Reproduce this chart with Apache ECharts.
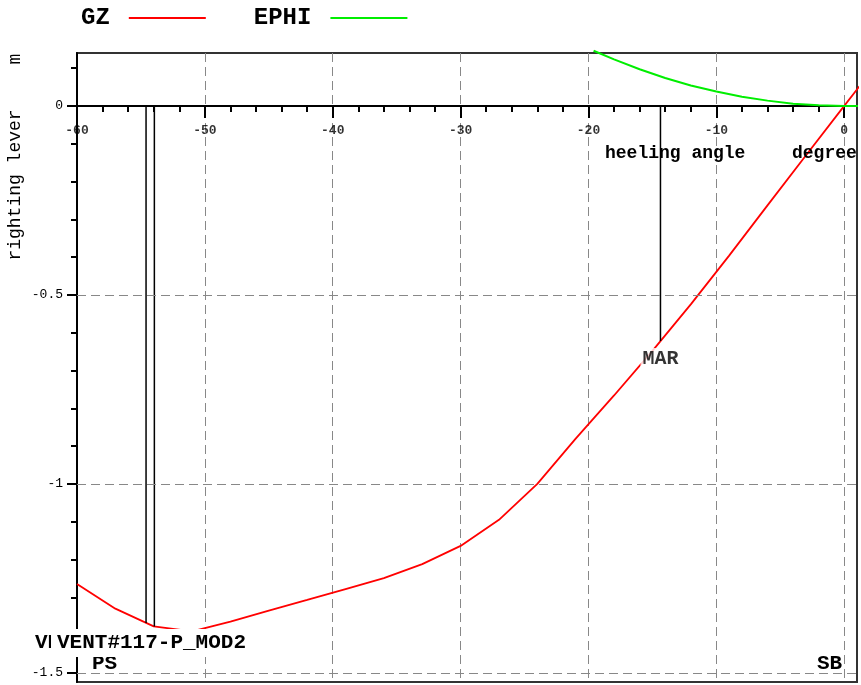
<!DOCTYPE html>
<html>
<head>
<meta charset="utf-8">
<script src="https://cdn.jsdelivr.net/npm/echarts@6/dist/echarts.min.js"></script>
<style>
  html, body { margin: 0; padding: 0; background: #fff; }
  #chart { width: 861px; height: 685px; }
</style>
</head>
<body>
<div id="chart"></div>
<script>
// Righting lever curve (GZ) against heeling angle, in metres
const heelAngles = [-60, -57, -54, -51, -48, -45, -42, -39, -36, -33, -30, -27, -24, -21, -18, -15, -12, -9, -6, -3, 0, 2];
const gzValues = [-1.265, -1.330, -1.377, -1.390, -1.364, -1.335, -1.307, -1.278, -1.249, -1.212, -1.164, -1.095, -1.000, -0.880, -0.766, -0.648, -0.525, -0.396, -0.263, -0.131, 0.000, 0.087];

// Heeling lever (EPHI)
const ephiAngles = [-19.6, -18, -16, -14, -12, -10, -8, -6, -4, -2, 0, 2];
const ephiValues = [0.146, 0.123, 0.097, 0.074, 0.054, 0.038, 0.024, 0.014, 0.006, 0.0015, 0, 0];

// Opening angles (vents) and the maximum-allowed-righting marker
const ventAngles = [-54.6, -53.95];
const marAngle = -14.37;
const marText = 'MAR';

// Axis ticks and labels
const xLabelValues = [-60, -50, -40, -30, -20, -10, 0];
const yLabelValues = [-1.5, -1, -0.5, 0];
const yGridValues = [-0.5, -1, -1.5];

const FONT = "'Liberation Mono', 'DejaVu Sans Mono', monospace";

function gzAt(a) {
  for (let i = 0; i < heelAngles.length - 1; i++) {
    const a0 = heelAngles[i], a1 = heelAngles[i + 1];
    if (a >= a0 && a <= a1) {
      const t = (a - a0) / (a1 - a0);
      return gzValues[i] + t * (gzValues[i + 1] - gzValues[i]);
    }
  }
  return 0;
}

const xMinorTicks = [];
for (let v = -58; v <= -2; v += 2) xMinorTicks.push(v);
const yMinorTicks = [];
for (let k = -15; k <= 1; k++) yMinorTicks.push(Math.round(k) / 10);

const chart = echarts.init(document.getElementById('chart'), null, { renderer: 'canvas' });

const markerSeries = ventAngles.concat([marAngle]).map((a, i) => ({
  name: 'marker' + i,
  type: 'line',
  xAxisIndex: 0,
  yAxisIndex: 0,
  data: [[a, 0], [a, gzAt(a)]],
  symbol: 'none',
  lineStyle: { color: '#000', width: 1.5 },
  z: 4,
  silent: true
}));

const option = {
  animation: false,
  backgroundColor: '#fff',
  legend: {
    left: 81,
    top: 6,
    padding: 0,
    align: 'right',
    icon: 'rect',
    itemWidth: 77,
    itemHeight: 2,
    itemGap: 48,
    data: ['GZ', 'EPHI'],
    textStyle: { fontFamily: FONT, fontSize: 24, fontWeight: 'bold', color: '#000', padding: [0, 14, 0, 0] }
  },
  grid: {
    left: 77, right: 4, top: 53, bottom: 3,
    show: true,
    borderColor: '#333',
    borderWidth: 2,
    containLabel: false,
    outerBoundsMode: 'none'
  },
  xAxis: [
    {
      type: 'value',
      position: 'bottom',
      min: -60, max: 1, interval: 10,
      axisLine: { onZero: true, lineStyle: { color: '#000', width: 2 } },
      axisTick: { customValues: xLabelValues, length: 12, lineStyle: { color: '#000', width: 2 } },
      axisLabel: { show: false },
      splitLine: { show: true, lineStyle: { color: '#888', width: 1, type: [9, 5] } }
    },
    {
      type: 'value',
      position: 'bottom',
      min: -60, max: 1, interval: 10,
      axisLine: { show: false, onZero: true },
      axisTick: { customValues: xMinorTicks, length: 6, lineStyle: { color: '#000', width: 2 } },
      axisLabel: { show: false },
      splitLine: { show: false }
    }
  ],
  yAxis: [
    {
      type: 'value',
      position: 'left',
      min: -1.524, max: 0.14,
      axisLine: { show: true, onZero: false, lineStyle: { color: '#000', width: 2 } },
      axisTick: { customValues: yLabelValues, length: 10, lineStyle: { color: '#000', width: 2 } },
      axisLabel: {
        customValues: yLabelValues,
        margin: 14,
        fontFamily: FONT, fontSize: 13, color: '#000'
      },
      splitLine: { show: false }
    },
    {
      type: 'value',
      position: 'left',
      offset: 0,
      min: -1.524, max: 0.14,
      axisLine: { show: false, onZero: false },
      axisTick: { customValues: yMinorTicks, length: 6, lineStyle: { color: '#000', width: 2 } },
      axisLabel: { show: false },
      splitLine: { show: false }
    }
  ],
  series: [
    {
      name: 'grid',
      type: 'line',
      data: [],
      silent: true,
      z: 1,
      markLine: {
        silent: true,
        symbol: ['none', 'none'],
        label: { show: false },
        lineStyle: { color: '#888', width: 1, type: [9, 5] },
        data: yGridValues.map(v => ({ yAxis: v }))
      }
    },
    {
      name: 'GZ',
      type: 'line',
      data: heelAngles.map((a, i) => [a, gzValues[i]]),
      symbol: 'none',
      clip: false,
      color: '#ff0000',
      lineStyle: { color: '#ff0000', width: 1.8 },
      z: 3
    },
    {
      name: 'EPHI',
      type: 'line',
      data: ephiAngles.map((a, i) => [a, ephiValues[i]]),
      symbol: 'none',
      clip: false,
      color: '#00ee00',
      lineStyle: { color: '#00ee00', width: 2 },
      z: 3
    },
    ...markerSeries,
    {
      // heeling angle tick labels along the zero line
      name: 'xLabels',
      type: 'scatter',
      data: xLabelValues.map(v => [v, 0]),
      symbolSize: 0,
      silent: true,
      clip: false,
      z: 6,
      label: {
        show: true,
        position: 'bottom',
        distance: 18,
        formatter: p => String(p.value[0]),
        fontFamily: FONT, fontSize: 13, fontWeight: 'bold', color: '#000'
      }
    },
    {
      name: 'marLabel',
      type: 'scatter',
      data: [[marAngle, gzAt(marAngle)]],
      symbolSize: 0,
      silent: true,
      z: 10,
      label: {
        show: true,
        position: 'bottom',
        distance: 7,
        formatter: marText,
        fontFamily: FONT, fontSize: 20, fontWeight: 'bold', color: '#000',
        backgroundColor: '#fff',
        padding: [1, 2, 1, 2]
      }
    }
  ],
  graphic: [
    { type: 'text', x: 15, y: 59, rotation: Math.PI / 2, z: 100,
      style: { text: 'm', font: '18px ' + FONT, fill: '#000', align: 'center', verticalAlign: 'middle' } },
    { type: 'text', x: 15, y: 185, rotation: Math.PI / 2, z: 100,
      style: { text: 'righting lever', font: '18px ' + FONT, fill: '#000', align: 'center', verticalAlign: 'middle' } },
    { type: 'text', x: 605, y: 153, z: 100,
      style: { text: 'heeling angle', font: 'bold 18px ' + FONT, fill: '#000', align: 'left', verticalAlign: 'middle' } },
    { type: 'text', x: 792, y: 153, z: 100,
      style: { text: 'degree', font: 'bold 18px ' + FONT, fill: '#000', align: 'left', verticalAlign: 'middle' } },
    { type: 'text', x: 35, y: 643, z: 100,
      style: { text: 'VENT#117-P_MOD2', font: 'bold 21px ' + FONT, fill: '#000', align: 'left', verticalAlign: 'middle',
               backgroundColor: '#fff', padding: [4, 0, 3, 0] } },
    { type: 'text', x: 51, y: 643, z: 101,
      style: { text: 'VENT#117-P_MOD2', font: 'bold 21px ' + FONT, fill: '#000', align: 'left', verticalAlign: 'middle',
               backgroundColor: '#fff', padding: [4, 0, 3, 6] } },
    { type: 'text', x: 92, y: 664, z: 100,
      style: { text: 'PS', font: 'bold 21px ' + FONT, fill: '#000', align: 'left', verticalAlign: 'middle' } },
    { type: 'text', x: 817, y: 664, z: 100,
      style: { text: 'SB', font: 'bold 21px ' + FONT, fill: '#000', align: 'left', verticalAlign: 'middle' } }
  ]
};

chart.setOption(option);
</script>
</body>
</html>
